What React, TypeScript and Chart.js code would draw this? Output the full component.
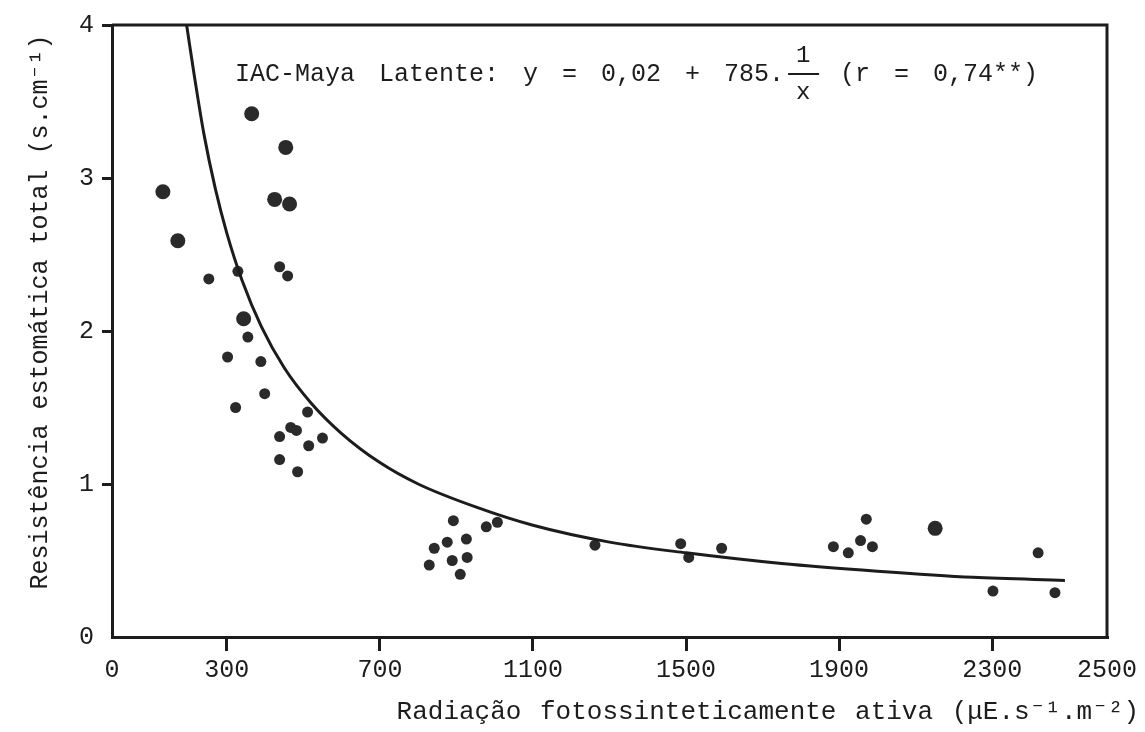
import React, { useEffect, useRef } from 'react';
import { Chart, registerables } from 'chart.js';

Chart.register(...registerables);

// Axis ticks
const xTickValues = [0, 300, 700, 1100, 1500, 1900, 2300, 2600];
const xTickLabels = ['0', '300', '700', '1100', '1500', '1900', '2300', '2500'];
const yTickValues = [0, 1, 2, 3, 4];
const yTickLabels = ['0', '1', '2', '3', '4'];

// Larger dots
const largeX = [133, 172, 344, 365, 425, 454, 464, 2151];
const largeY = [2.91, 2.59, 2.08, 3.42, 2.86, 3.2, 2.83, 0.71];

// Smaller dots
const smallX = [253, 302, 323, 329, 355, 389, 399, 438, 438, 438, 459, 467, 482, 485, 511, 514, 550,
  829, 842, 876, 889, 892, 910, 926, 928, 978, 1007, 1262, 1486, 1507, 1593,
  1885, 1924, 1956, 1971, 1987, 2302, 2420, 2464];
const smallY = [2.34, 1.83, 1.5, 2.39, 1.96, 1.8, 1.59, 2.42, 1.31, 1.16, 2.36, 1.37, 1.35, 1.08, 1.47, 1.25, 1.3,
  0.47, 0.58, 0.62, 0.5, 0.76, 0.41, 0.64, 0.52, 0.72, 0.75, 0.6, 0.61, 0.52, 0.58,
  0.59, 0.55, 0.63, 0.77, 0.59, 0.3, 0.55, 0.29];

// Fitted curve
const curveX = [195, 215, 240, 270, 300, 340, 390, 450, 520, 600, 700, 800, 950, 1100, 1300, 1500, 1750, 2000, 2250, 2490];
const curveY = [4.0, 3.67, 3.29, 2.93, 2.64, 2.33, 2.03, 1.76, 1.53, 1.33, 1.14, 1.0, 0.85, 0.73, 0.62, 0.55, 0.48, 0.43, 0.39, 0.37];

const xTitle = 'Radiação fotossinteticamente ativa (μE.s⁻¹.m⁻²)';
const yTitle = 'Resistência estomática total (s.cm⁻¹)';
const eqLeft = 'IAC-Maya Latente: y = 0,02 + 785.';
const eqNum = '1';
const eqDen = 'x';
const eqRight = '(r = 0,74**)';

const FONT = '"Liberation Mono", "DejaVu Sans Mono", monospace';
const INK = '#1c1c1c';

const toPts = (xs: number[], ys: number[]) => xs.map((x, i) => ({ x, y: ys[i] }));

export default function App() {
  const ref = useRef<HTMLCanvasElement | null>(null);

  useEffect(() => {
    if (!ref.current) return;

    const framePlugin = {
      id: 'frame',
      beforeDatasetsDraw(chart: any) {
        const { ctx, chartArea: a } = chart;
        ctx.save();
        ctx.strokeStyle = INK;
        ctx.lineWidth = 3;
        ctx.beginPath();
        ctx.moveTo(a.left, a.top);
        ctx.lineTo(a.right, a.top);
        ctx.lineTo(a.right, a.bottom);
        ctx.stroke();
        ctx.restore();
      },
      afterDraw(chart: any) {
        const { ctx } = chart;
        ctx.save();
        ctx.fillStyle = INK;
        ctx.strokeStyle = INK;
        // equation annotation
        ctx.font = `25px ${FONT}`;
        try { (ctx as any).wordSpacing = '9px'; } catch (e) {}
        ctx.textBaseline = 'middle';
        ctx.textAlign = 'left';
        ctx.fillText(eqLeft, 235, 74);
        const w = ctx.measureText(eqLeft).width;
        const fx = 235 + w + 4;
        ctx.font = `24px ${FONT}`;
        ctx.textAlign = 'center';
        ctx.fillText(eqNum, fx + 15, 56);
        ctx.fillText(eqDen, fx + 15, 93);
        ctx.lineWidth = 2;
        ctx.beginPath();
        ctx.moveTo(fx, 74);
        ctx.lineTo(fx + 31, 74);
        ctx.stroke();
        ctx.font = `25px ${FONT}`;
        ctx.textAlign = 'left';
        ctx.fillText(eqRight, fx + 52, 74);
        // x title
        try { (ctx as any).wordSpacing = '3px'; } catch (e) {}
        ctx.font = `26px ${FONT}`;
        ctx.textAlign = 'right';
        ctx.fillText(xTitle, 1139, 712);
        // y title
        try { (ctx as any).wordSpacing = '0px'; } catch (e) {}
        ctx.font = `25px ${FONT}`;
        ctx.translate(40, 312);
        ctx.rotate(-Math.PI / 2);
        ctx.textAlign = 'center';
        ctx.fillText(yTitle, 0, 0);
        ctx.restore();
      },
    };

    const chart = new Chart(ref.current, {
      type: 'scatter',
      data: {
        datasets: [
          {
            label: 'curve',
            data: toPts(curveX, curveY),
            showLine: true,
            borderColor: INK,
            borderWidth: 3,
            pointRadius: 0,
            cubicInterpolationMode: 'monotone',
            fill: false,
          } as any,
          {
            label: 'large',
            data: toPts(largeX, largeY),
            backgroundColor: '#2a2a2a',
            borderColor: '#2a2a2a',
            borderWidth: 0,
            pointRadius: 7.5,
          },
          {
            label: 'small',
            data: toPts(smallX, smallY),
            backgroundColor: '#2a2a2a',
            borderColor: '#2a2a2a',
            borderWidth: 0,
            pointRadius: 5.5,
          },
        ],
      },
      options: {
        animation: false,
        responsive: false,
        events: [],
        layout: { padding: { top: 25, right: 38, bottom: 0, left: 0 } },
        plugins: {
          legend: { display: false },
          tooltip: { enabled: false },
        },
        scales: {
          x: {
            type: 'linear',
            min: 0,
            max: 2600,
            afterBuildTicks: (s: any) => {
              s.ticks = xTickValues.map((v) => ({ value: v }));
            },
            afterFit: (s: any) => {
              s.height = 95;
            },
            ticks: {
              autoSkip: false,
              maxRotation: 0,
              padding: 4,
              color: INK,
              font: { family: FONT, size: 25 },
              callback: (v: any) => {
                const i = xTickValues.indexOf(Number(v));
                return i >= 0 ? xTickLabels[i] : '';
              },
            },
            grid: {
              drawOnChartArea: false,
              drawTicks: true,
              tickLength: 14,
              lineWidth: 3,
              color: (c: any) =>
                c.tick && (c.tick.value === 0 || c.tick.value === 2600) ? 'rgba(0,0,0,0)' : INK,
            },
            border: { display: true, color: INK, width: 3 },
          },
          y: {
            type: 'linear',
            min: 0,
            max: 4,
            afterBuildTicks: (s: any) => {
              s.ticks = yTickValues.map((v) => ({ value: v }));
            },
            afterFit: (s: any) => {
              s.width = 112;
            },
            ticks: {
              autoSkip: false,
              padding: 8,
              color: INK,
              font: { family: FONT, size: 25 },
              callback: (v: any) => {
                const i = yTickValues.indexOf(Number(v));
                return i >= 0 ? yTickLabels[i] : '';
              },
            },
            grid: {
              drawOnChartArea: false,
              drawTicks: true,
              tickLength: 10,
              lineWidth: 3,
              color: (c: any) => (c.tick && c.tick.value === 0 ? 'rgba(0,0,0,0)' : INK),
            },
            border: { display: true, color: INK, width: 3 },
          },
        },
      },
      plugins: [framePlugin],
    });

    return () => chart.destroy();
  }, []);

  return (
    <div style={{ position: 'absolute', left: 0, top: 0, width: 1145, height: 732, background: '#fff' }}>
      <canvas ref={ref} width={1145} height={732} style={{ display: 'block' }} />
    </div>
  );
}
